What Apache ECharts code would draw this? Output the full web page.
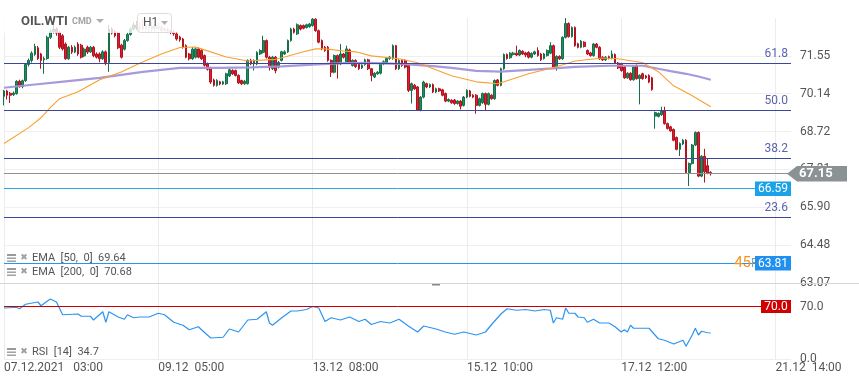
<!DOCTYPE html>
<html><head><meta charset="utf-8">
<script src="https://cdn.jsdelivr.net/npm/echarts@6/dist/echarts.min.js"></script>
<style>html,body{margin:0;padding:0;background:#fff}#c{width:859px;height:385px}</style>
</head><body><div id="c"></div>
<script>
// ---- data ----
const barCount = 256; // visible slots on the time axis (incl. empty future)
const tickIndex = [0, 50, 100, 150, 200, 250];
const tickLabels = ['07.12.2021   03:00', '09.12  05:00', '13.12  08:00', '15.12  10:00', '17.12  12:00', '21.12  14:00'];
const priceTicks = [63.07, 64.48, 65.90, 67.31, 68.72, 70.14, 71.55];
const rsiTicks = [0, 70];
// [open, close, low, high]
const candles = [
[70.04,70.24,69.70,70.28],[70.24,70.08,69.92,70.28],[70.15,70.08,69.79,70.20],[70.10,70.16,70.05,70.22],[70.14,70.60,70.10,70.64],
[70.60,70.40,70.36,70.66],[70.40,70.62,70.34,70.66],[70.62,71.23,70.58,71.27],[71.23,71.38,71.15,71.45],[71.38,71.65,71.30,71.72],
[71.60,71.90,71.55,72.00],[71.85,71.45,71.40,71.92],[71.62,71.38,71.07,71.66],[71.40,71.45,70.88,71.52],[71.45,72.24,71.40,72.30],
[72.24,72.45,72.18,72.55],[72.45,72.55,72.38,72.78],[72.55,72.40,72.30,72.62],[72.42,71.87,71.80,72.48],[72.30,71.81,71.75,72.36],
[71.99,71.44,71.40,72.05],[71.44,71.87,71.40,71.92],[71.87,71.69,71.62,71.95],[71.69,71.87,71.65,71.94],[71.99,71.62,71.55,72.06],
[71.95,71.50,71.45,72.00],[71.55,71.80,71.50,71.86],[71.87,71.69,71.62,71.93],[71.70,71.87,71.66,71.92],[71.87,71.56,71.50,71.92],
[71.62,71.50,71.45,71.68],[71.62,71.44,71.31,71.68],[71.44,71.70,71.40,71.76],[71.70,71.30,71.20,71.75],[71.30,72.55,70.95,72.70],
[72.55,72.40,72.35,72.62],[72.45,72.30,72.24,72.52],[72.40,71.85,71.80,72.45],[71.95,71.50,71.45,72.00],[71.80,72.12,71.75,72.18],
[72.12,72.35,72.08,72.42],[72.35,72.55,72.30,72.62],[72.55,72.70,72.50,72.80],[72.70,72.60,72.52,72.85],[72.55,72.62,72.45,72.80],
[72.65,72.55,72.48,72.90],[72.55,72.70,72.50,72.88],[72.70,72.58,72.40,72.75],[72.55,72.65,72.45,72.80],[72.68,72.58,72.45,72.74],
[72.58,72.64,72.52,72.78],[72.62,72.50,72.44,72.70],[72.50,72.55,72.45,72.62],[72.55,72.48,72.40,72.60],[72.48,72.42,72.36,72.56],
[72.42,72.38,72.30,72.50],[72.37,72.18,72.12,72.42],[72.25,72.15,72.08,72.30],[72.18,71.87,71.82,72.22],[71.93,71.50,71.46,71.98],
[71.62,71.44,71.38,71.66],[71.44,71.80,71.40,71.88],[71.50,71.81,71.45,71.86],[71.81,71.50,71.46,71.86],[71.75,71.44,71.40,71.80],
[71.56,71.20,71.15,71.60],[71.25,71.05,71.00,71.30],[71.10,70.57,70.50,71.14],[70.65,70.45,70.40,70.70],[70.45,70.63,70.40,70.68],
[70.58,70.50,70.45,70.62],[70.50,70.58,70.46,70.62],[70.51,70.88,70.46,70.92],[70.80,71.03,70.76,71.08],[71.00,70.88,70.84,71.05],
[71.00,70.82,70.78,71.04],[70.82,70.54,70.50,70.86],[70.63,70.51,70.46,70.66],[70.51,70.60,70.46,70.65],[70.51,71.38,70.48,71.42],
[71.38,71.25,71.20,71.44],[71.25,71.38,71.00,71.42],[71.25,71.68,71.20,71.72],[71.62,71.75,71.58,71.80],[71.68,72.12,71.64,72.30],
[72.12,71.50,71.45,72.16],[71.50,71.13,71.00,71.55],[71.07,71.50,71.02,71.55],[71.50,71.00,70.90,71.54],[71.13,71.30,71.08,71.36],
[71.38,71.70,71.34,71.74],[71.62,71.70,71.58,71.76],[71.70,72.12,71.66,72.16],[72.12,72.55,72.08,72.60],[72.55,72.43,72.38,72.60],
[72.37,72.71,72.33,72.76],[72.68,72.55,72.50,72.72],[72.68,72.58,72.54,72.72],[72.61,72.71,72.57,72.75],[72.64,72.74,72.60,72.78],
[72.68,72.92,72.64,72.96],[72.92,72.49,72.45,72.95],[72.49,72.06,72.02,72.53],[72.12,71.81,71.76,72.16],[71.87,71.75,71.70,71.92],
[71.87,71.38,71.33,71.92],[71.38,70.94,70.76,71.42],[70.94,71.56,70.90,71.60],[71.56,71.25,70.70,71.60],[71.25,71.62,71.20,71.99],
[71.62,71.50,71.45,71.66],[71.30,71.81,71.26,71.93],[71.77,71.31,71.26,71.82],[71.19,71.38,71.15,71.42],[71.38,71.15,71.10,71.42],
[71.25,71.07,71.02,71.30],[71.10,71.20,71.06,71.24],[71.22,71.40,71.18,71.45],[71.40,71.07,71.02,71.44],[71.07,70.82,70.60,71.10],
[70.76,70.90,70.72,70.94],[70.88,70.94,70.84,70.98],[70.90,71.25,70.86,71.30],[71.25,71.33,71.20,71.38],[71.30,71.45,71.26,71.50],
[71.45,71.50,71.40,71.55],[71.45,71.93,71.40,71.98],[71.93,71.07,71.02,71.96],[71.07,71.38,71.02,71.42],[71.38,71.19,71.14,71.42],
[71.38,71.13,71.08,71.42],[71.19,70.26,70.20,71.22],[70.26,70.51,69.77,70.55],[70.45,70.32,70.28,70.50],[70.39,69.52,69.50,70.42],
[69.52,70.01,69.48,70.05],[70.01,70.57,69.96,70.62],[70.51,70.39,70.34,70.55],[70.39,70.48,70.35,70.52],[70.48,70.20,70.16,70.52],
[70.20,70.32,70.16,70.36],[70.32,70.24,70.20,70.36],[70.28,70.08,70.04,70.32],[70.14,69.86,69.82,70.18],[69.86,69.92,69.82,69.96],
[69.89,69.80,69.76,69.93],[69.90,69.77,69.72,69.94],[69.77,69.86,69.73,69.90],[69.86,69.67,69.55,69.90],[69.70,70.01,69.66,70.05],
[70.01,70.26,69.97,70.30],[70.24,70.04,70.00,70.28],[70.08,70.01,69.97,70.12],[70.08,69.70,69.39,70.12],[69.70,69.95,69.66,69.99],
[69.80,70.14,69.76,70.18],[70.14,69.74,69.49,70.18],[69.74,70.14,69.70,70.18],[70.08,69.95,69.91,70.12],[69.95,70.63,69.91,70.67],
[70.65,70.45,70.41,70.69],[70.45,71.07,70.41,71.11],[71.07,71.60,71.03,71.64],[71.60,71.45,71.41,71.64],[71.48,71.65,71.44,71.69],
[71.60,71.65,71.56,71.70],[71.65,71.58,71.54,71.93],[71.58,71.75,71.54,71.79],[71.72,71.62,71.58,71.76],[71.66,71.58,71.50,71.70],
[71.68,71.50,71.45,71.72],[71.50,71.64,71.46,71.68],[71.62,71.70,71.58,71.74],[71.75,71.56,71.52,71.87],[71.62,71.40,71.36,71.66],
[71.45,71.62,71.41,71.66],[71.56,71.75,71.52,71.79],[71.65,71.93,71.61,72.06],[71.93,71.13,71.09,71.97],[71.13,71.53,71.00,71.57],
[71.53,71.44,71.40,71.57],[71.44,72.24,71.40,72.28],[72.24,72.76,72.20,72.96],[72.76,72.27,72.23,72.80],[72.27,72.61,72.23,72.65],
[72.61,71.93,71.89,72.65],[72.00,71.87,71.83,72.04],[71.87,72.10,71.83,72.14],[72.06,71.90,71.86,72.10],[71.75,71.62,71.58,71.79],
[71.66,71.56,71.52,71.70],[71.56,71.99,71.52,72.03],[71.99,71.87,71.83,72.03],[71.87,71.44,71.40,71.91],[71.50,71.40,71.36,71.54],
[71.40,71.50,71.36,71.54],[71.52,71.46,71.42,71.56],[71.46,71.62,71.42,71.75],[71.60,71.28,71.24,71.64],[71.28,71.10,71.06,71.32],
[71.25,71.00,70.96,71.29],[71.13,70.73,70.69,71.17],[70.73,70.90,70.69,70.94],[70.90,70.66,70.62,70.94],[70.66,71.13,70.62,71.17],
[71.19,70.70,70.66,71.23],[70.70,70.82,69.74,70.86],[70.88,70.70,70.66,70.92],[70.80,70.73,70.69,70.84],[70.82,70.57,70.53,70.86],
[70.73,70.29,70.25,70.77],[69.30,69.43,68.83,69.47],[69.29,69.40,69.25,69.44],[69.35,69.49,69.31,69.65],[69.49,69.02,68.98,69.65],
[69.02,68.84,68.80,69.06],[68.90,68.75,68.71,68.94],[68.80,68.40,68.36,68.84],[68.50,68.06,68.02,68.54],[68.06,68.28,67.81,68.32],
[68.26,68.40,68.22,68.44],[68.40,67.19,67.15,68.44],[67.19,67.53,66.69,67.57],[67.53,68.22,67.49,68.26],[68.22,68.69,68.18,68.73],
[68.69,67.06,67.02,68.73],[67.06,67.80,67.02,67.84],[67.80,67.22,66.82,68.08],[67.45,67.17,67.13,67.70],[67.20,67.15,67.08,67.24]
];
// [bar index, value]
const ema50 = [[0,68.28],[8,68.87],[12,69.24],[15,69.62],[18,69.95],[24,70.21],[31,70.66],[38,70.95],[44,71.27],[51,71.62],[57,71.86],[62,71.88],[64,71.81],[72,71.51],[79,71.36],[85,71.40],[88,71.42],[91,71.51],[97,71.70],[101,71.81],[104,71.81],[110,71.73],[114,71.70],[119,71.55],[128,71.44],[134,71.29],[145,70.81],[153,70.58],[160,70.51],[164,70.66],[170,70.88],[179,71.14],[185,71.36],[194,71.47],[199,71.44],[207,71.29],[212,70.96],[217,70.43],[223,70.06],[229,69.65]];
const ema200 = [[0,70.36],[10,70.48],[20,70.60],[31,70.73],[45,70.95],[57,71.10],[70,71.10],[80,71.12],[90,71.16],[100,71.22],[110,71.28],[118,71.29],[130,71.24],[140,71.16],[145,71.10],[153,70.99],[161,70.96],[170,71.03],[178,71.08],[185,71.14],[196,71.18],[207,71.18],[212,71.07],[216,70.98],[221,70.88],[225,70.78],[229,70.66]];
const rsi = [[0,68],[4,69],[5,67],[7,73],[11,76],[12,71],[15,80],[17,76],[19,59],[24,60],[25,57],[28,57],[29,52],[32,63],[33,49],[34,63],[37,56],[39,53],[40,59],[42,55],[44,56],[47,56],[50,61],[52,59],[55,49],[58,45],[60,39],[63,43],[64,39],[67,28],[71,29],[73,40],[76,36],[79,52],[82,53],[85,63],[86,48],[87,45],[90,55],[93,64],[95,64],[98,66],[100,70],[102,68],[104,50],[106,55],[109,52],[112,56],[115,50],[117,53],[119,46],[122,50],[125,48],[128,53],[131,44],[134,36],[136,44],[140,40],[143,36],[146,33],[149,36],[153,32],[156,36],[158,46],[161,60],[163,67],[166,65],[169,66],[172,64],[175,66],[177,65],[178,48],[179,55],[181,53],[182,68],[183,61],[185,61],[186,56],[188,55],[189,49],[191,53],[193,48],[196,48],[198,43],[200,36],[201,39],[202,36],[203,45],[204,41],[207,41],[209,41],[212,27],[214,25],[217,20],[220,25],[221,17],[223,32],[224,41],[225,32],[226,37],[228,35],[229,34.7]];
const fibLevels = [71.28, 69.51, 67.73, 65.53];
const fibNames = ['61.8', '50.0', '38.2', '23.6'];
const lastPrice = 67.15;
const level1 = 66.59;
const level2 = 63.81;
const rsiLevel = 70.0;
const legendTexts = ['EMA  [50,  0]  69.64', 'EMA  [200,  0]  70.68', 'RSI  [14]  34.7'];

// ---- chart ----
const cats = [];
for (let i = 0; i < barCount; i++) cats.push(String(i));
const isTick = (idx) => tickIndex.indexOf(idx) >= 0;
const FONT = 'Roboto';

const fibMarks = fibLevels.map((v, i) => ({
  yAxis: v,
  lineStyle: { color: '#3b479c', width: 1, type: 'solid' },
  label: { show: true, formatter: fibNames[i], position: 'insideEndTop', distance: 3, color: '#5a63b2', fontSize: 12, fontFamily: FONT }
}));
fibMarks.push({ yAxis: lastPrice, lineStyle: { color: '#8a9494', width: 1, type: 'solid' }, label: { show: false } });
fibMarks.push({ yAxis: level1, lineStyle: { color: '#2ba7e6', width: 1, type: 'solid' }, label: { show: false } });
fibMarks.push({ yAxis: level2, lineStyle: { color: '#2196f3', width: 1, type: 'solid' }, label: { show: false } });

const chart = echarts.init(document.getElementById('c'), null, { renderer: 'canvas' });
const option = {
  animation: false,
  backgroundColor: '#fff',
  textStyle: { fontFamily: FONT },
  grid: [
    { left: 4, right: 68, top: 18, height: 265 },
    { left: 4, right: 68, top: 284, height: 75 }
  ],
  xAxis: [
    { type: 'category', gridIndex: 0, data: cats, boundaryGap: false,
      axisLine: { show: false }, axisTick: { show: false }, axisLabel: { show: false },
      splitLine: { show: true, interval: (i) => isTick(i), lineStyle: { color: '#ececec' } } },
    { type: 'category', gridIndex: 1, data: cats, boundaryGap: false,
      axisLine: { show: false }, axisTick: { show: false },
      axisLabel: { show: true, interval: (i) => isTick(i), formatter: (v, i) => tickLabels[tickIndex.indexOf(i)] || '',
        align: 'left', margin: 3, color: '#555', fontSize: 12, fontFamily: FONT },
      splitLine: { show: true, interval: (i) => isTick(i), lineStyle: { color: '#ececec' } } }
  ],
  yAxis: [
    { type: 'value', gridIndex: 0, position: 'right', min: 63.07, max: 72.963,
      axisLine: { show: false }, axisTick: { show: false, customValues: priceTicks },
      axisLabel: { customValues: priceTicks, formatter: (v) => v.toFixed(2), color: '#555', fontSize: 12, fontFamily: FONT, margin: 9 },
      splitLine: { show: true, lineStyle: { color: '#efefef' } } },
    { type: 'value', gridIndex: 1, position: 'right', min: 0, max: 100,
      axisLine: { show: false }, axisTick: { show: false, customValues: rsiTicks },
      axisLabel: { customValues: rsiTicks, formatter: (v) => v.toFixed(1), color: '#555', fontSize: 12, fontFamily: FONT, margin: 9 },
      splitLine: { show: true, lineStyle: { color: '#efefef' } } }
  ],
  series: [
    { type: 'candlestick', xAxisIndex: 0, yAxisIndex: 0, data: candles, barWidth: '72%',
      itemStyle: { color: '#1f8d5d', color0: '#dd1f2e', borderColor: '#15704a', borderColor0: '#b3121f', borderWidth: 1 },
      markLine: { symbol: 'none', silent: true, animation: false, z: 5, data: fibMarks } },
    { type: 'line', xAxisIndex: 0, yAxisIndex: 0, data: ema200, symbol: 'none', z: 3,
      lineStyle: { color: '#a394d8', width: 2.2, opacity: 0.95 } },
    { type: 'line', xAxisIndex: 0, yAxisIndex: 0, data: ema50, symbol: 'none', z: 4,
      lineStyle: { color: '#f7a131', width: 1.1 } },
    { type: 'line', xAxisIndex: 1, yAxisIndex: 1, data: rsi, symbol: 'none', z: 4,
      lineStyle: { color: '#2b95f0', width: 1.2 },
      markLine: { symbol: 'none', silent: true, animation: false,
        data: [{ yAxis: rsiLevel, lineStyle: { color: '#cc0000', width: 1, type: 'solid' }, label: { show: false } }] } }
  ]
};
chart.setOption(option);

// overlay graphics (tags, title, legends), positioned via the chart's own scales
const yP = (v) => chart.convertToPixel({ yAxisIndex: 0 }, v);
const yR = (v) => chart.convertToPixel({ yAxisIndex: 1 }, v);
const g = [];
// faded header area
g.push({ type: 'rect', shape: { x: 0, y: 0, width: 176, height: 33 }, style: { fill: 'rgba(255,255,255,0.78)' }, z: 50 });
g.push({ type: 'text', x: 21, y: 22, style: { text: 'OIL.WTI', fill: '#555', font: 'bold 13px Roboto', verticalAlign: 'middle' }, z: 60 });
g.push({ type: 'text', x: 72, y: 22, style: { text: 'CMD', fill: '#a2a2a2', font: 'bold 9px Roboto', verticalAlign: 'middle' }, z: 60 });
g.push({ type: 'polygon', shape: { points: [[96, 19], [104, 19], [100, 23]] }, style: { fill: '#b0b0b0' }, z: 60 });
g.push({ type: 'rect', shape: { x: 137.5, y: 13.5, width: 34, height: 19, r: 3 }, style: { fill: 'rgba(255,255,255,0.6)', stroke: '#dcdcdc', lineWidth: 1 }, z: 60 });
g.push({ type: 'text', x: 143, y: 23, style: { text: 'H1', fill: '#555', font: '12px Roboto', verticalAlign: 'middle' }, z: 61 });
g.push({ type: 'polygon', shape: { points: [[161, 21], [168, 21], [164.5, 25]] }, style: { fill: '#b0b0b0' }, z: 61 });

// 67.15 price tag
const yl = yP(lastPrice);
g.push({ type: 'polygon', shape: { points: [[787, yl], [797, yl - 7.7], [847, yl - 7.7], [847, yl + 7.7], [797, yl + 7.7]] }, style: { fill: '#8a9294' }, z: 70 });
g.push({ type: 'text', x: 799, y: yl + 0.5, style: { text: lastPrice.toFixed(2), fill: '#fff', font: 'bold 13px Roboto', verticalAlign: 'middle' }, z: 71 });
// 66.59 tag
const y1 = yP(level1);
g.push({ type: 'rect', shape: { x: 755, y: y1 - 7.3, width: 36, height: 14.6 }, style: { fill: '#1ba3e8' }, z: 70 });
g.push({ type: 'text', x: 773, y: y1 + 0.5, style: { text: level1.toFixed(2), fill: '#fff', font: '12px Roboto', align: 'center', verticalAlign: 'middle' }, z: 71 });
// 63.81 tag with "45" note
const y2 = yP(level2);
g.push({ type: 'text', x: 751, y: y2 + 0.5, style: { text: 'P', fill: '#999', font: '12px Roboto', verticalAlign: 'middle' }, z: 69 });
g.push({ type: 'text', x: 751, y: y2 + 0.5, style: { text: '45', fill: '#f7931e', font: '15px Roboto', align: 'right', verticalAlign: 'middle' }, z: 70 });
g.push({ type: 'rect', shape: { x: 755, y: y2 - 7.3, width: 36, height: 14.6 }, style: { fill: '#1f8ff0' }, z: 70 });
g.push({ type: 'text', x: 773, y: y2 + 0.5, style: { text: level2.toFixed(2), fill: '#fff', font: '12px Roboto', align: 'center', verticalAlign: 'middle' }, z: 71 });
// RSI 70 tag
const yr = yR(rsiLevel);
g.push({ type: 'rect', shape: { x: 761, y: yr - 6.5, width: 30, height: 13 }, style: { fill: '#d10000' }, z: 70 });
g.push({ type: 'text', x: 776, y: yr + 0.5, style: { text: rsiLevel.toFixed(1), fill: '#fff', font: '12px Roboto', align: 'center', verticalAlign: 'middle' }, z: 71 });

// panel separator + handle
g.push({ type: 'line', shape: { x1: 0, y1: 283.5, x2: 859, y2: 283.5 }, style: { stroke: '#d6d6d6', lineWidth: 1 }, z: 40 });
g.push({ type: 'rect', shape: { x: 432, y: 284, width: 8, height: 1.5 }, style: { fill: '#888' }, z: 41 });

// legends
const legendY = [258, 272, 352];
legendY.forEach((ly, i) => {
  g.push({ type: 'rect', shape: { x: 7, y: ly - 4, width: 9, height: 2 }, style: { fill: '#9a9a9a' }, z: 60 });
  g.push({ type: 'rect', shape: { x: 7, y: ly - 0.5, width: 9, height: 1.4 }, style: { fill: '#9a9a9a' }, z: 60 });
  g.push({ type: 'rect', shape: { x: 7, y: ly + 2.5, width: 9, height: 1.4 }, style: { fill: '#9a9a9a' }, z: 60 });
  g.push({ type: 'text', x: 24, y: ly, style: { text: '\u2716', fill: '#a0a0a0', font: '9px "DejaVu Sans"', align: 'center', verticalAlign: 'middle' }, z: 60 });
  g.push({ type: 'text', x: 32, y: ly + 0.5, style: { text: legendTexts[i], fill: '#555', font: '11px Roboto', verticalAlign: 'middle' }, z: 60 });
});
chart.setOption({ graphic: g });
</script>
</body></html>
